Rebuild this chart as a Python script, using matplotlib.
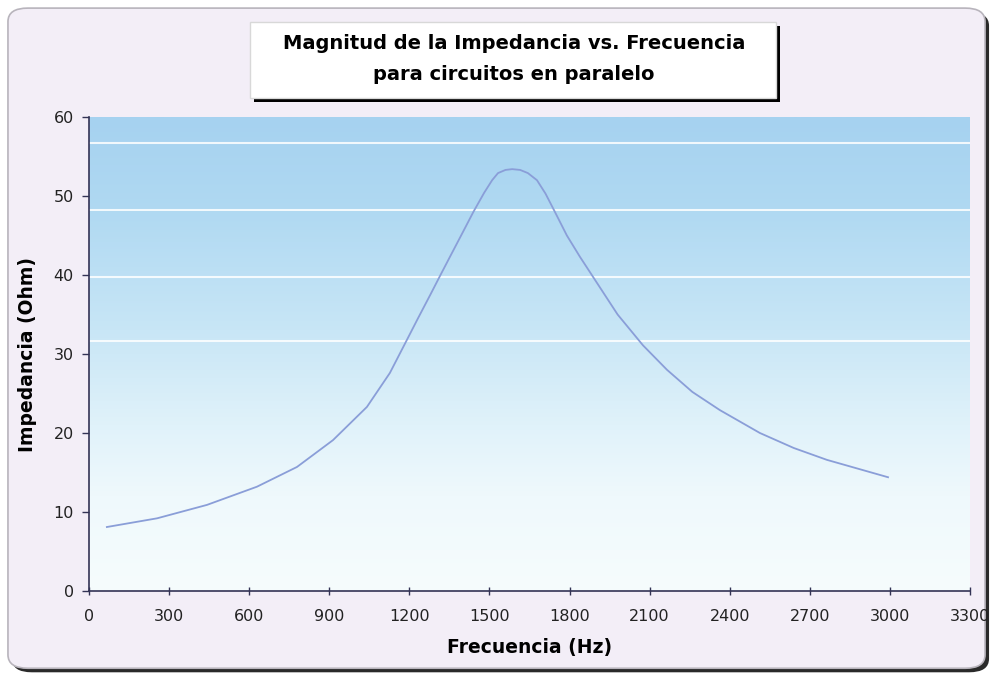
import numpy as np
import matplotlib
matplotlib.use("Agg")
import matplotlib.pyplot as plt
from matplotlib.patches import FancyBboxPatch, Rectangle
from matplotlib.colors import LinearSegmentedColormap

# datos
frecuencia = [67, 255, 442, 629, 779, 914, 1041, 1127, 1191, 1232, 1280, 1315, 1352,
              1400, 1440, 1480, 1510, 1532, 1560, 1585, 1615, 1644, 1678, 1710, 1745,
              1790, 1839, 1895, 1980, 2075, 2165, 2260, 2363, 2513, 2640, 2764, 2993]
impedancia = [8.1, 9.2, 10.9, 13.2, 15.7, 19.1, 23.3, 27.6, 31.8, 34.5, 37.6, 39.9, 42.3,
              45.4, 48.0, 50.4, 52.0, 52.9, 53.3, 53.4, 53.3, 52.9, 52.0, 50.3, 48.0,
              45.0, 42.3, 39.4, 35.0, 31.1, 28.0, 25.2, 22.9, 20.0, 18.1, 16.6, 14.4]
x_ticks = [0, 300, 600, 900, 1200, 1500, 1800, 2100, 2400, 2700, 3000, 3300]
y_ticks = [0, 10, 20, 30, 40, 50, 60]
# lineas claras del escaneo
franjas = [56.7, 48.2, 39.7, 31.6]

plt.rcParams['font.family'] = ['DejaVu Sans']

fig = plt.figure(figsize=(9.95, 6.75), dpi=100)
fig.patch.set_facecolor('white')

# marco del grafico (sombra + borde redondeado)
sombra = FancyBboxPatch((0.012, 0.004), 0.982, 0.978, boxstyle="round,pad=0,rounding_size=0.02",
                        transform=fig.transFigure, facecolor='#2a2a2a', edgecolor='none', zorder=-3)
marco = FancyBboxPatch((0.008, 0.010), 0.982, 0.978, boxstyle="round,pad=0,rounding_size=0.02",
                       transform=fig.transFigure, facecolor='#f3eef7', edgecolor='#b8b4bc',
                       linewidth=1.2, zorder=-2)
fig.patches.extend([sombra, marco])

ax = fig.add_axes([89 / 995, 1 - 591 / 675, 881 / 995, (591 - 117) / 675])
ax.set_xlim(0, 3300)
ax.set_ylim(0, 60)

# fondo degradado
cmap = LinearSegmentedColormap.from_list('fondo', [
    (0.0, '#f6fcfd'), (0.2, '#eff9fc'), (0.35, '#e0f2fa'),
    (0.55, '#c8e6f6'), (0.8, '#b0d9f2'), (1.0, '#a6d2f0')])
grad = np.linspace(0, 1, 256).reshape(-1, 1)
ax.imshow(grad, cmap=cmap, origin='lower', aspect='auto',
          extent=[0, 3300, 0, 60], zorder=0)
for f in franjas:
    ax.axhline(f, color='white', linewidth=1.5, alpha=0.85, zorder=1)

ax.plot(frecuencia, impedancia, color='#8a9ed8', linewidth=1.3, zorder=3)

ax.set_xticks(x_ticks)
ax.set_yticks(y_ticks)
ax.set_xticklabels([str(t) for t in x_ticks], fontsize=11.5, color='#222222')
ax.set_yticklabels([str(t) for t in y_ticks], fontsize=11.5, color='#222222')
ax.tick_params(axis='y', direction='out', length=5, width=1, color='#333355', pad=6)
ax.tick_params(axis='x', direction='inout', length=6, width=1, color='#333355', pad=10)
for s in ['top', 'right']:
    ax.spines[s].set_visible(False)
for s in ['left', 'bottom']:
    ax.spines[s].set_color('#333355')
    ax.spines[s].set_linewidth(1.2)

ax.set_xlabel('Frecuencia (Hz)', fontsize=13.5, fontweight='bold', labelpad=10)
ax.set_ylabel('Impedancia (Ohm)', fontsize=13.5, fontweight='bold', labelpad=12)

# caja del titulo con sombra
fig.patches.append(Rectangle((254 / 995, 1 - 102 / 675), 526 / 995, 76 / 675,
                             transform=fig.transFigure, facecolor='black', edgecolor='none', zorder=2))
fig.patches.append(Rectangle((250 / 995, 1 - 98 / 675), 526 / 995, 76 / 675,
                             transform=fig.transFigure, facecolor='white', edgecolor='#d8d8d8',
                             linewidth=1, zorder=3))
fig.text(514 / 995, 1 - 59 / 675, 'Magnitud de la Impedancia vs. Frecuencia\npara circuitos en paralelo',
         ha='center', va='center', fontsize=14, fontweight='bold', linespacing=1.75, zorder=4)

fig.savefig('out.png', dpi=100)
